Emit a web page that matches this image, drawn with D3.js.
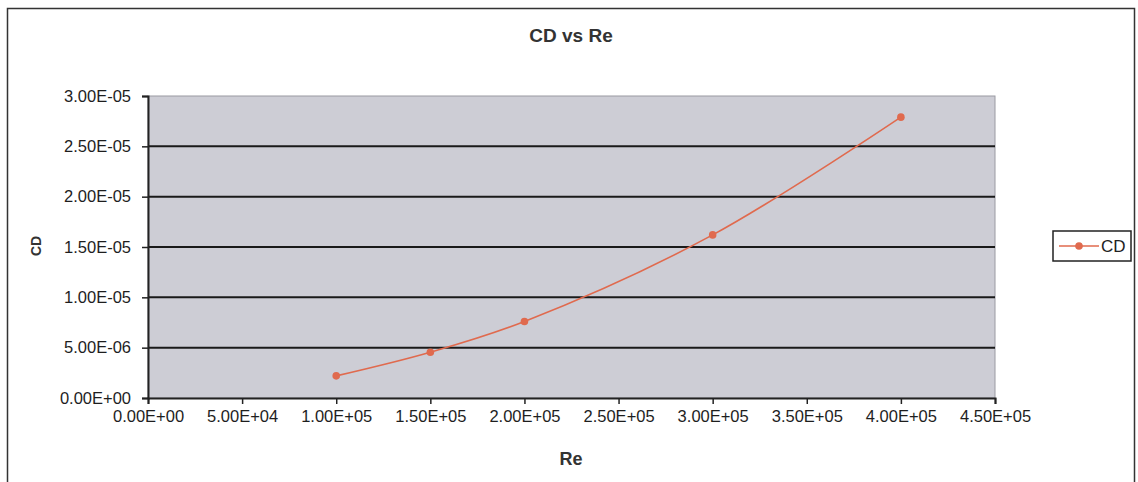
<!DOCTYPE html>
<html>
<head>
<meta charset="utf-8">
<script src="https://cdn.jsdelivr.net/npm/d3@7"></script>
<style>
  html, body { margin: 0; padding: 0; background: #ffffff; }
  svg { display: block; }
  text { font-family: "Liberation Sans", Arial, sans-serif; }
  .ticklbl text { font-size: 16.5px; }
</style>
</head>
<body>
<svg id="chart" width="1138" height="482"></svg>
<script>
const reValues = [100000, 150000, 200000, 300000, 400000];
const cdValues = [2.2e-6, 4.55e-6, 7.6e-6, 1.62e-5, 2.79e-5];
const xTicks = [0, 50000, 100000, 150000, 200000, 250000, 300000, 350000, 400000, 450000];
const yTicks = [0, 5e-6, 1e-5, 1.5e-5, 2e-5, 2.5e-5, 3e-5];
const seriesName = "CD";
const titleText = "CD vs Re";
const xLabel = "Re";
const yLabel = "CD";

function expFmt(v) {
  if (v === 0) return "0.00E+00";
  const e = Math.floor(Math.log10(Math.abs(v)) + 1e-9);
  const m = v / Math.pow(10, e);
  const sign = e < 0 ? "-" : "+";
  const ae = Math.abs(e);
  return m.toFixed(2) + "E" + sign + (ae < 10 ? "0" + ae : ae);
}

const svg = d3.select("#chart");
const plot = { left: 148, right: 995, top: 96, bottom: 398 };

// outer frame
svg.append("rect").attr("x", 7.5).attr("y", 8.5).attr("width", 1127).attr("height", 490)
  .attr("fill", "#ffffff").attr("stroke", "#333").attr("stroke-width", 1.5);

const x = d3.scaleLinear().domain([0, 450000]).range([plot.left, plot.right]);
const y = d3.scaleLinear().domain([0, 3e-5]).range([plot.bottom, plot.top]);

// plot background
svg.append("rect").attr("x", plot.left).attr("y", plot.top)
  .attr("width", plot.right - plot.left).attr("height", plot.bottom - plot.top)
  .attr("fill", "#cdcdd5").attr("stroke", "#9a9aa2").attr("stroke-width", 1);

// gridlines
svg.append("g").selectAll("line").data(yTicks.filter(d => d > 0 && d < 3e-5)).join("line")
  .attr("x1", plot.left).attr("x2", plot.right)
  .attr("y1", d => y(d)).attr("y2", d => y(d))
  .attr("stroke", "#1a1a1a").attr("stroke-width", 2);

// axes
const yAxis = d3.axisLeft(y).tickValues(yTicks).tickFormat(expFmt).tickSize(6).tickPadding(11);
const gy = svg.append("g").attr("class", "ticklbl").attr("transform", `translate(${plot.left},0)`).call(yAxis);
const xAxis = d3.axisBottom(x).tickValues(xTicks).tickFormat(expFmt).tickSize(6).tickPadding(6);
const gx = svg.append("g").attr("class", "ticklbl").attr("transform", `translate(0,${plot.bottom})`).call(xAxis);
[gy, gx].forEach(g => {
  g.attr("font-size", 16.5).attr("font-family", "Liberation Sans, Arial, sans-serif");
  g.selectAll("text").attr("font-size", 16.5).attr("fill", "#1e1e1e");
  g.select(".domain").attr("stroke", "#222").attr("stroke-width", 2);
  g.selectAll(".tick line").attr("stroke", "#222").attr("stroke-width", 1.5);
});

// line
const pts = reValues.map((r, i) => [r, cdValues[i]]);
const lineGen = d3.line().x(d => x(d[0])).y(d => y(d[1])).curve(d3.curveCatmullRom.alpha(0.5));
const col = "#e06a4e";
svg.append("path").datum(pts).attr("d", lineGen)
  .attr("fill", "none").attr("stroke", col).attr("stroke-width", 1.6);
svg.append("g").selectAll("circle").data(pts).join("circle")
  .attr("cx", d => x(d[0])).attr("cy", d => y(d[1])).attr("r", 3.8).attr("fill", col);

// titles
svg.append("text").attr("x", 571).attr("y", 42).attr("text-anchor", "middle")
  .style("font-size", "19px").style("font-weight", "bold").attr("fill", "#333").text(titleText);
svg.append("text").attr("x", 571).attr("y", 465).attr("text-anchor", "middle")
  .style("font-size", "18px").style("font-weight", "bold").attr("fill", "#333").text(xLabel);
svg.append("text").attr("transform", `translate(41,${(plot.top + plot.bottom) / 2 - 1}) rotate(-90)`)
  .attr("text-anchor", "middle")
  .style("font-size", "14px").style("font-weight", "bold").attr("fill", "#333").text(yLabel);

// legend
const lg = svg.append("g");
lg.append("rect").attr("x", 1053).attr("y", 231).attr("width", 78).attr("height", 30)
  .attr("fill", "#fff").attr("stroke", "#222").attr("stroke-width", 1.5);
lg.append("line").attr("x1", 1059).attr("x2", 1099).attr("y1", 246).attr("y2", 246)
  .attr("stroke", col).attr("stroke-width", 1.6);
lg.append("circle").attr("cx", 1079).attr("cy", 246).attr("r", 3.8).attr("fill", col);
lg.append("text").attr("x", 1101).attr("y", 252).style("font-size", "17px")
  .attr("fill", "#222").text(seriesName);
</script>
</body>
</html>
